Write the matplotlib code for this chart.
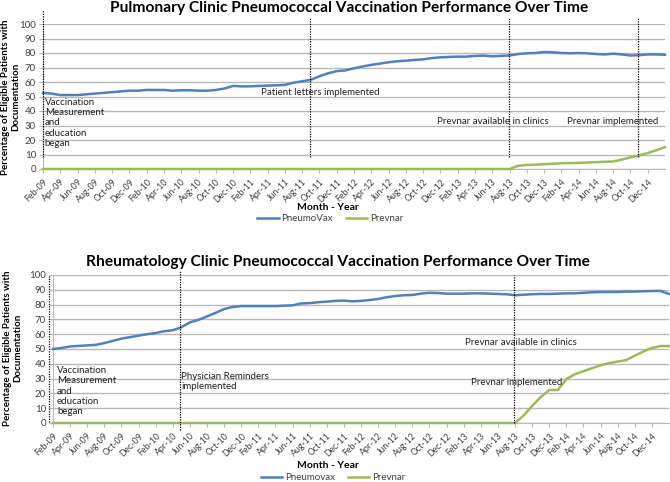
import matplotlib
matplotlib.use("Agg")
import matplotlib.pyplot as plt
from matplotlib.lines import Line2D

plt.rcParams['font.family'] = ['Lato', 'DejaVu Sans']

# month labels shown on axis (every other month), Feb-09 .. Dec-14
tick_labels = ["Feb-09", "Apr-09", "Jun-09", "Aug-09", "Oct-09", "Dec-09",
               "Feb-10", "Apr-10", "Jun-10", "Aug-10", "Oct-10", "Dec-10",
               "Feb-11", "Apr-11", "Jun-11", "Aug-11", "Oct-11", "Dec-11",
               "Feb-12", "Apr-12", "Jun-12", "Aug-12", "Oct-12", "Dec-12",
               "Feb-13", "Apr-13", "Jun-13", "Aug-13", "Oct-13", "Dec-13",
               "Feb-14", "Apr-14", "Jun-14", "Aug-14", "Oct-14", "Dec-14"]

# Pulmonary clinic (monthly, Feb-09 .. Feb-15)
pulm_pneumovax = [52.5, 52.0, 51.0, 51.0, 51.0, 51.5, 52.0, 52.5, 53.0, 53.5,
                  54.0, 54.0, 54.5, 54.5, 54.5, 54.0, 54.3, 54.3, 54.0, 54.0,
                  54.5, 55.5, 57.3, 57.0, 57.0, 57.3, 57.5, 57.7, 58.0, 59.5,
                  60.5, 61.5, 64.0, 66.0, 67.5, 68.0, 69.5, 70.7, 71.8, 72.7,
                  73.6, 74.3, 74.7, 75.2, 75.6, 76.5, 77.0, 77.3, 77.5, 77.5,
                  78.0, 78.2, 77.7, 78.0, 78.3, 79.3, 79.8, 80.0, 80.7, 80.5,
                  80.0, 79.8, 80.0, 79.8, 79.3, 79.0, 79.5, 79.0, 78.3, 78.5,
                  79.0, 79.0, 78.8]
pulm_prevnar = [0, 0, 0, 0, 0, 0, 0, 0, 0, 0,
                0, 0, 0, 0, 0, 0, 0, 0, 0, 0,
                0, 0, 0, 0, 0, 0, 0, 0, 0, 0,
                0, 0, 0, 0, 0, 0, 0, 0, 0, 0,
                0, 0, 0, 0, 0, 0, 0, 0, 0, 0,
                0, 0, 0, 0, 0, 2.2, 2.8, 3.0, 3.3, 3.6,
                4.0, 4.1, 4.2, 4.5, 4.7, 5.0, 5.2, 6.5, 8.0, 9.3,
                11.0, 13.0, 15.0]

# Rheumatology clinic (monthly, Feb-09 .. Feb-15)
rheum_pneumovax = [50.0, 50.7, 51.7, 52.1, 52.4, 52.8, 54.0, 55.5, 57.0, 58.0,
                   59.0, 60.0, 60.8, 62.0, 62.7, 64.7, 68.0, 69.7, 72.0, 74.4,
                   77.0, 78.4, 79.0, 79.0, 79.0, 79.0, 79.0, 79.3, 79.5, 80.8,
                   81.0, 81.6, 82.0, 82.5, 82.7, 82.2, 82.5, 83.1, 83.8, 85.0,
                   85.8, 86.3, 86.5, 87.4, 88.0, 87.8, 87.4, 87.4, 87.4, 87.6,
                   87.6, 87.4, 87.2, 87.0, 86.3, 86.7, 87.0, 87.2, 87.2, 87.4,
                   87.6, 87.6, 88.0, 88.3, 88.5, 88.5, 88.5, 88.8, 88.8, 89.0,
                   89.2, 89.2, 87.2]
rheum_prevnar = [0, 0, 0, 0, 0, 0, 0, 0, 0, 0,
                 0, 0, 0, 0, 0, 0, 0, 0, 0, 0,
                 0, 0, 0, 0, 0, 0, 0, 0, 0, 0,
                 0, 0, 0, 0, 0, 0, 0, 0, 0, 0,
                 0, 0, 0, 0, 0, 0, 0, 0, 0, 0,
                 0, 0, 0, 0, 0, 5.0, 11.5, 17.5, 22.3, 22.3,
                 29.6, 33.0, 35.0, 37.0, 39.0, 40.5, 41.5, 42.5, 45.5, 48.3,
                 50.7, 52.0, 52.0]

BLUE = '#4f81bd'
GREEN = '#9bbb59'
GRID = '#b8b8b8'
TXT = '#404040'

fig = plt.figure(figsize=(6.7, 4.82), dpi=100)


def setup(ax, pv, pr, pv_name, title, title_x, title_y, xlab_y, leg_x, leg_y,
          ylab_x, ylab_y):
    x = list(range(len(pv)))
    ax.set_xlim(0, len(pv) - 1)
    ax.set_ylim(0, 100)
    ax.set_yticks(range(0, 101, 10))
    ax.set_xticks(range(0, 2 * len(tick_labels), 2))
    ax.set_xticklabels(tick_labels, rotation=45, ha='right',
                       rotation_mode='anchor', fontsize=6.3, color=TXT)
    ax.tick_params(axis='y', labelsize=7, colors=TXT, length=3, width=0.8,
                   color=GRID, pad=2)
    ax.tick_params(axis='x', length=3, width=0.8, color=GRID, pad=3)
    for s in ['top', 'right']:
        ax.spines[s].set_visible(False)
    ax.spines['left'].set_color(GRID)
    ax.spines['bottom'].set_color(GRID)
    ax.grid(axis='y', color=GRID, linewidth=1.0)
    ax.set_axisbelow(True)
    ax.plot(x, pv, color=BLUE, lw=1.8, clip_on=False, zorder=3)
    ax.plot(x, pr, color=GREEN, lw=1.8, clip_on=False, zorder=3)
    fig.text(title_x, title_y, title, ha='center', va='center',
             fontsize=11.2, fontweight='bold', color='#000000')
    fig.text(0.49, xlab_y, 'Month - Year', ha='center', va='center',
             fontsize=7.5, fontweight='bold')
    fig.text(ylab_x, ylab_y, 'Percentage of Eligible Patients with\nDocumentation',
             rotation=90, ha='center', va='center', ma='center',
             fontsize=7, fontweight='bold', linespacing=1.2)
    handles = [Line2D([], [], color=BLUE, lw=1.8),
               Line2D([], [], color=GREEN, lw=1.8)]
    fig.legend(handles, [pv_name, 'Prevnar'], loc='center',
               bbox_to_anchor=(leg_x, leg_y), ncol=2, frameon=False,
               fontsize=7, handlelength=2.2, handletextpad=0.3,
               columnspacing=1.3, labelcolor=TXT)


def vline(ax, xv, y0, y1):
    ax.plot([xv, xv], [y0, y1], color='black', lw=0.9, ls=(0, (1, 1)),
            clip_on=False, zorder=4)


# ---- top panel
ax1 = fig.add_axes([43 / 670, 1 - 169 / 482, 622 / 670, 145 / 482])
setup(ax1, pulm_pneumovax, pulm_prevnar, 'PneumoVax',
      'Pulmonary Clinic Pneumococcal Vaccination Performance Over Time',
      349 / 670, 1 - 8 / 482, 1 - 207 / 482, 0.493, 1 - 219 / 482,
      11 / 670, 1 - 97 / 482)
vline(ax1, 0, 8.3, 109.7)
vline(ax1, 30.9, 8.3, 104.8)
vline(ax1, 53.9, 8.3, 104.8)
vline(ax1, 68.9, 8.3, 104.8)
kw = dict(fontsize=7, color='#202020', linespacing=1.18)
ax1.text(0.2, 49, 'Vaccination\nMeasurement\nand\neducation\nbegan',
         ha='left', va='top', **kw)
ax1.text(25.2, 53.1, 'Patient letters implemented', ha='left', va='center', **kw)
ax1.text(45.6, 33.1, 'Prevnar available in clinics', ha='left', va='center', **kw)
ax1.text(60.6, 33.1, 'Prevnar implemented', ha='left', va='center', **kw)

# ---- bottom panel
ax2 = fig.add_axes([53 / 670, 1 - 423 / 482, 616 / 670, 148 / 482])
setup(ax2, rheum_pneumovax, rheum_prevnar, 'Pneumovax',
      'Rheumatology Clinic Pneumococcal Vaccination Performance Over Time',
      338 / 670, 1 - 262 / 482, 1 - 465 / 482, 0.497, 1 - 478 / 482,
      13 / 670, 1 - 348 / 482)
vline(ax2, -0.45, 1, 100)
vline(ax2, 14.8, -4.5, 103.4)
vline(ax2, 53.9, 0, 100)
ax2.text(0.47, 38.5, 'Vaccination\nMeasurement\nand\neducation\nbegan',
         ha='left', va='top', **kw)
ax2.text(15.0, 34.5, 'Physician Reminders\nimplemented', ha='left', va='top', **kw)
ax2.text(48.1, 54.7, 'Prevnar available in clinics', ha='left', va='center', **kw)
ax2.text(48.8, 27.7, 'Prevnar implemented', ha='left', va='center', **kw)

fig.savefig('out.png', dpi=100)
